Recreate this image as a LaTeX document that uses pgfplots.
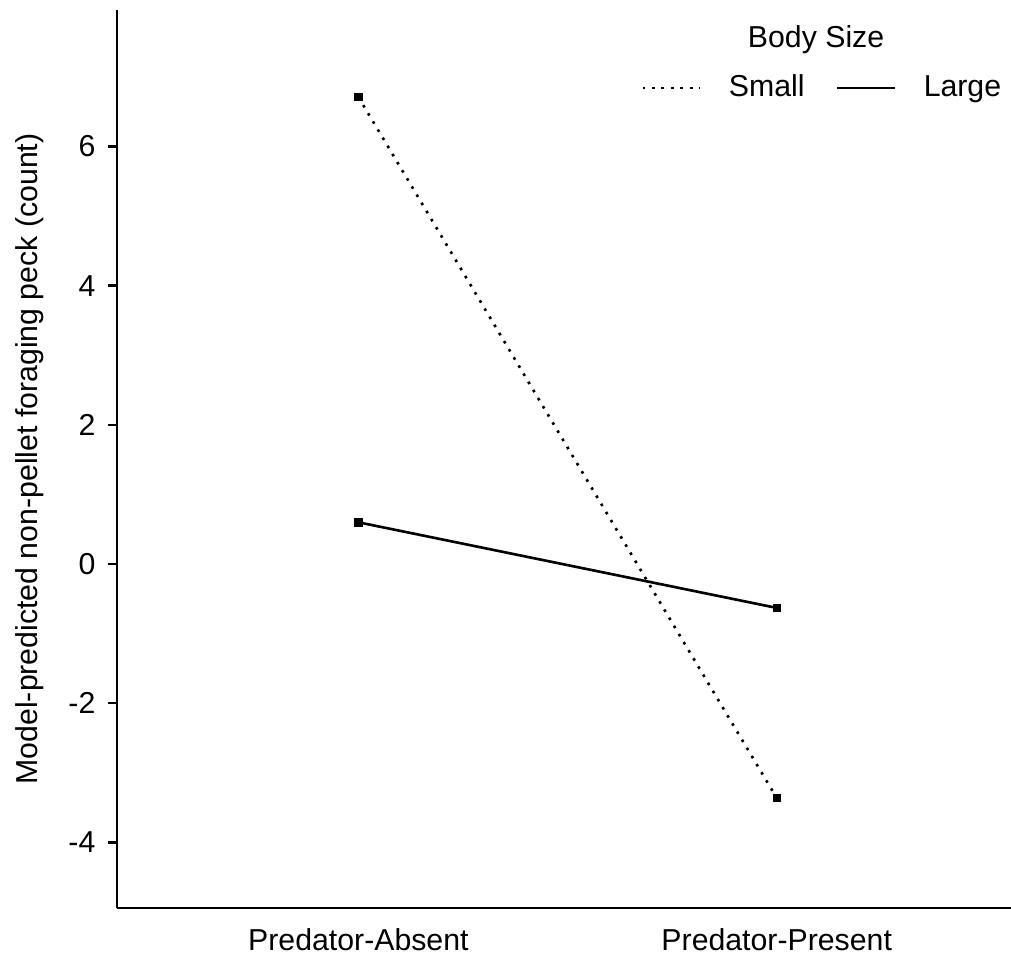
\documentclass[border=0pt]{standalone}
\usepackage{fontspec}
\setmainfont{Liberation Sans}
\usepackage{pgfplots}
\pgfplotsset{compat=1.18}
\begin{document}
\fontsize{11.5}{13.8}\selectfont
\begin{tikzpicture}
\begin{axis}[
  name=ax,
  scale only axis,
  width=339.7pt, height=341.2pt,
  xmin=0.423, xmax=2.56,
  ymin=-4.94, ymax=7.96,
  axis x line*=bottom, axis y line*=left,
  axis line style={line width=0.9pt, -},
  tick align=outside,
  major tick length=3.4pt,
  every tick/.style={black, line width=0.9pt},
  x tick style={draw=none},
  xtick={1,2},
  xticklabels={Predator-Absent, Predator-Present},
  ytick={-4,-2,0,2,4,6},
  /pgf/number format/assume math mode=true,
  tick label style={font=\fontsize{11.5}{13.8}\selectfont, black},
  yticklabel style={xshift=-0.8pt},
  xticklabel style={yshift=-0.5pt},
  ylabel={Model-predicted non-pellet foraging peck (count)},
  ylabel style={font=\fontsize{11.5}{13.8}\selectfont},
  every axis y label/.style={at={([xshift=-33.2pt]axis description cs:0,0.5)}, rotate=90, anchor=center},
  legend columns=2,
  legend style={draw=none, fill=none, inner sep=0pt, outer sep=0pt,
    at={(axis description cs:0.989,0.913)}, anchor=east,
    font=\fontsize{11.5}{13.8}\selectfont,
    nodes={inner sep=0pt},
    /tikz/every odd column/.append style={column sep=10.6pt},
    /tikz/every even column/.append style={column sep=12pt}},
  legend image code/.code={\draw[#1, mark=none] (0pt,0pt) -- (21.7pt,0pt);},
]
\addplot[black, line width=1.0pt, dash pattern=on 1.0pt off 2.6pt, mark=square*, mark size=1.1pt, mark options={solid}]
  coordinates {(1,6.71) (2,-3.36)};
\addlegendentry{Small}
\addplot[black, line width=1.0pt, mark=square*, mark size=1.1pt, mark options={solid}]
  coordinates {(1,0.60) (2,-0.63)};
\addlegendentry{Large}
\node[font=\fontsize{11.5}{13.8}\selectfont] at (axis description cs:0.782,0.967) {Body Size};
\end{axis}
\pgfresetboundingbox
\path ([xshift=-44.46pt,yshift=-21.28pt]ax.south west) rectangle ([yshift=3.8pt]ax.north east);
\end{tikzpicture}
\end{document}
